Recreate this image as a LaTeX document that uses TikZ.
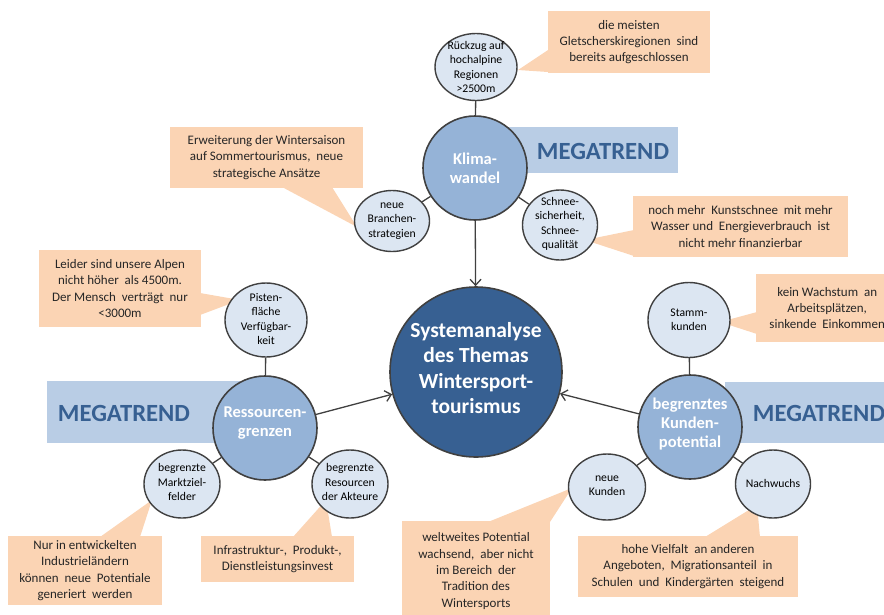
\documentclass[tikz,border=0pt]{standalone}
\usepackage{fontspec}
\setmainfont{Carlito}
\usetikzlibrary{shapes.geometric,arrows.meta}
\definecolor{peach}{HTML}{FBD4B4}
\definecolor{lightblue}{HTML}{DCE6F2}
\definecolor{midblue}{HTML}{95B3D7}
\definecolor{darkblue}{HTML}{376092}
\definecolor{trendbg}{HTML}{B9CDE5}
\definecolor{edgegray}{HTML}{404040}
\begin{document}
\begin{tikzpicture}[x=1pt,y=-1pt,
  smallell/.style={ellipse, draw=edgegray, line width=1.4pt, fill=lightblue, inner sep=0pt},
  smalltext/.style={align=center, font=\fontsize{11.7}{14.3}\selectfont, text=black, inner sep=0pt},
  midell/.style={circle, draw=edgegray, line width=1.6pt, fill=midblue, inner sep=0pt, minimum size=104pt},
  midtext/.style={align=center, font=\fontsize{16.5}{19}\selectfont\bfseries, text=white, inner sep=0pt},
  callbox/.style={fill=peach, inner sep=0pt, align=center, font=\fontsize{13}{16.3}\selectfont, text=black!85},
  trendbox/.style={fill=trendbg, inner sep=0pt},
  trendtext/.style={font=\fontsize{24.7}{28}\selectfont\bfseries, text=darkblue, inner sep=0pt},
  conn/.style={draw=edgegray, line width=1.3pt},
  arr/.style={draw=edgegray, line width=1.3pt, -{Straight Barb[length=6pt,width=11pt]}}
]
\path[use as bounding box] (0,0) rectangle (884,614);
\clip (0,0) rectangle (884,614);

% ---- callout wedges ----
\fill[peach] (548,50) -- (518,70) -- (548,72) -- cycle;
\fill[peach] (282,187) -- (357,227) -- (332,187) -- cycle;
\fill[peach] (634,230) -- (585,240) -- (634,256) -- cycle;
\fill[peach] (200,293) -- (240,300) -- (200,315) -- cycle;
\fill[peach] (757,312) -- (720,322) -- (757,334) -- cycle;
\fill[peach] (100,537) -- (152,500) -- (140,537) -- cycle;
\fill[peach] (293,537) -- (326,500) -- (332,537) -- cycle;
\fill[peach] (488,522) -- (572,488) -- (550,522) -- cycle;
\fill[peach] (705,537) -- (757,505) -- (760,537) -- cycle;

% ---- callout boxes ----
\node[callbox, minimum width=162pt, minimum height=62pt] (c1) at (629,42) {die meisten\\Gletscherskiregionen\ \ sind\\bereits aufgeschlossen};
\node[callbox, minimum width=193pt, minimum height=61pt] (c2) at (266.5,157.5) {Erweiterung der Wintersaison\\auf Sommertourismus,\ \ neue\\strategische Ansätze};
\node[callbox, minimum width=215pt, minimum height=61pt] (c3) at (740.5,226.5) {noch mehr\ \ Kunstschnee\ \ mit mehr\\Wasser und\ \ Energieverbrauch\ \ ist\\nicht mehr finanzierbar};
\node[callbox, minimum width=162pt, minimum height=77pt] (c4) at (120,288.5) {Leider sind unsere Alpen\\nicht höher\ \ als 4500m.\\Der Mensch\ \ verträgt\ \ nur\\<3000m};
\node[callbox, minimum width=142pt, minimum height=68pt, anchor=west] (c5) at (756,308) {kein Wachstum\ \ an\\Arbeitsplätzen,\\sinkende\ \ Einkommen};
\node[callbox, minimum width=154pt, minimum height=69pt] (c6) at (85,570.5) {Nur in entwickelten\\Industrieländern\\können\ \ neue\ \ Potentiale\\generiert\ \ werden};
\node[callbox, minimum width=153pt, minimum height=46pt] (c7) at (277.5,559) {Infrastruktur-,\ \ Produkt-,\\Dienstleistungsinvest};
\node[callbox, minimum width=148pt, minimum height=100pt] (c8) at (476,571) {weltweites Potential\\wachsend,\ \ aber nicht\\im Bereich\ \ der\\Tradition des\\Wintersports};
\node[callbox, minimum width=220pt, minimum height=61pt] (c9) at (688,566.5) {hohe Vielfalt\ \ an anderen\\Angeboten,\ \ Migrationsanteil\ \ in\\Schulen\ \ und\ \ Kindergärten\ \ steigend};

% ---- MEGATREND boxes ----
\node[trendbox, minimum width=178pt, minimum height=46pt, anchor=north west] (t1) at (500,127) {};
\node[trendtext] (t1t) at (603,151) {MEGATREND};
\node[trendbox, minimum width=193pt, minimum height=62pt, anchor=north west] (t2) at (47,381) {};
\node[trendtext] (t2t) at (124,413) {MEGATREND};
\node[trendbox, minimum width=170pt, minimum height=61pt, anchor=north west] (t3) at (725,382) {};
\node[trendtext] (t3t) at (819,413) {MEGATREND};

% ---- central node ----
\node[ellipse, draw=edgegray, line width=1.6pt, fill=darkblue, inner sep=0pt, minimum width=172pt, minimum height=170pt] (core) at (476,372) {};
\node[align=center, font=\fontsize{21.5}{25.5}\selectfont\bfseries, text=white, inner sep=0pt] (coret) at (476,368) {Systemanalyse\\des Themas\\Wintersport-\\tourismus};

% ---- megatrend circles ----
\node[midell] (klima) at (475,168) {};
\node[midtext] (klimat) at (475,168) {Klima-\\wandel};
\node[midell] (ress) at (265,428) {};
\node[midtext] (resst) at (265,423) {Ressourcen-\\grenzen};
\node[midell] (kunden) at (690,427) {};
\node[midtext] (kundent) at (690,424) {begrenztes\\Kunden-\\potential};

% ---- small circles ----
\node[smallell, minimum width=82pt, minimum height=67pt] (rueck) at (476,67) {};
\node[smalltext] (ruecht) at (476,67) {Rückzug auf\\hochalpine\\Regionen\\>2500m};
\node[smallell, minimum width=75pt, minimum height=61pt] (branch) at (392,221) {};
\node[smalltext] (brancht) at (392,221) {neue\\Branchen-\\strategien};
\node[smallell, minimum width=75pt, minimum height=70pt] (schnee) at (560,225) {};
\node[smalltext] (schneet) at (560,224) {Schnee-\\sicherheit,\\Schnee-\\qualität};
\node[smallell, minimum width=82pt, minimum height=74pt] (pisten) at (266,320) {};
\node[smalltext] (pistent) at (266,319) {Pisten-\\fläche\\Verfügbar-\\keit};
\node[smallell, minimum width=76pt, minimum height=68pt] (markt) at (182,484) {};
\node[smalltext] (marktt) at (182,482) {begrenzte\\Marktziel-\\felder};
\node[smallell, minimum width=76pt, minimum height=68pt] (resak) at (350,484) {};
\node[smalltext] (resakt) at (350,482) {begrenzte\\Resourcen\\der Akteure};
\node[smallell, minimum width=82pt, minimum height=75pt] (stamm) at (689,320) {};
\node[smalltext] (stammt) at (689,320) {Stamm-\\kunden};
\node[smallell, minimum width=77pt, minimum height=66pt] (neuk) at (607,487) {};
\node[smalltext] (neukt) at (607,486) {neue\\Kunden};
\node[smallell, minimum width=75pt, minimum height=68pt] (nach) at (773,484) {};
\node[smalltext] (nacht) at (773,483) {Nachwuchs};

% ---- connectors ----
\draw[conn] (rueck) -- (klima);
\draw[conn] (klima) -- (branch);
\draw[conn] (klima) -- (schnee);
\draw[conn] (pisten) -- (ress);
\draw[conn] (ress) -- (markt);
\draw[conn] (ress) -- (resak);
\draw[conn] (stamm) -- (kunden);
\draw[conn] (kunden) -- (neuk);
\draw[conn] (kunden) -- (nach);
\draw[arr] (klima) -- (core);
\draw[arr] (ress) -- (core);
\draw[arr] (kunden) -- (core);
\end{tikzpicture}
\end{document}
